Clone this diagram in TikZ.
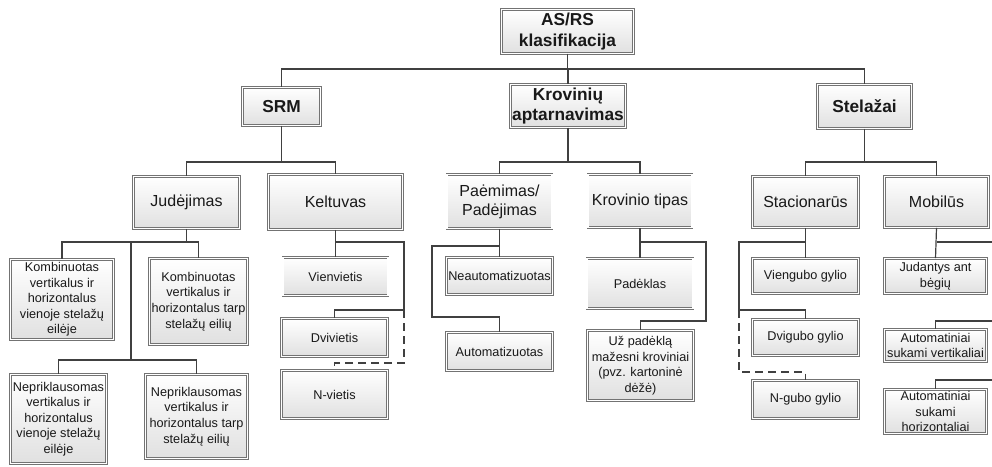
\documentclass[tikz,border=0pt]{standalone}
\usepackage{fontspec}
\setmainfont{Liberation Sans}
\usetikzlibrary{shadows}

\begin{document}
\begin{tikzpicture}[x=1pt,y=-1pt,
  box/.style={draw=black!55,double=white,double distance=1.6pt,line width=0.6pt,
              top color=white,bottom color=black!12,
              drop shadow={opacity=0.15,shadow xshift=1.2pt,shadow yshift=-1.2pt},
              align=center,inner sep=1pt,text=black!90},
  main/.style={box,font=\fontsize{17.3}{20.5}\selectfont\bfseries},
  cat/.style={box,font=\fontsize{16}{19}\selectfont},
  leaf/.style={box,font=\fontsize{12.7}{15.6}\selectfont},
  link/.style={draw=black!75,line width=1.2pt},
  dlink/.style={link,dash pattern=on 8pt off 5pt}
]
\useasboundingbox (0,0) rectangle (992,466);

% Root
\node[main,minimum width=132pt,minimum height=44pt] (root) at (567.5,31.5) {AS/RS\\klasifikacija};

% Level 1
\node[main,minimum width=78pt,minimum height=38pt]  (srm)  at (281.5,106.5) {SRM};
\node[main,minimum width=115pt,minimum height=43pt] (krov) at (568,106)     {Krovinių\\aptarnavimas};
\node[main,minimum width=94pt,minimum height=44pt]  (stel) at (864.5,106.5) {Stelažai};

% Level 2
\node[cat,minimum width=106pt,minimum height=52pt] (jud)  at (186.5,202.5) {Judėjimas};
\node[cat,minimum width=134pt,minimum height=55pt] (kel)  at (335.5,202)   {Keltuvas};
\node[cat,minimum width=105pt,minimum height=54pt] (paem) at (499.5,201.5) {Paėmimas/\\Padėjimas};
\node[cat,minimum width=104pt,minimum height=53pt] (ktip) at (640,201)     {Krovinio tipas};
\node[cat,minimum width=106pt,minimum height=51pt] (stac) at (805.5,202)   {Stacionarūs};
\node[cat,minimum width=104pt,minimum height=51pt] (mob)  at (936.5,202)   {Mobilūs};

% SRM / Judėjimas
\node[leaf,minimum width=103pt,minimum height=80pt] (k1) at (62,299.5)    {Kombinuotas\\vertikalus ir\\horizontalus\\vienoje stelažų\\eilėje};
\node[leaf,minimum width=98pt,minimum height=86pt]  (k2) at (198.5,301.5) {Kombinuotas\\vertikalus ir\\horizontalus tarp\\stelažų eilių};
\node[leaf,minimum width=96pt,minimum height=89pt]  (n1) at (58.5,419)    {Nepriklausomas\\vertikalus ir\\horizontalus\\vienoje stelažų\\eilėje};
\node[leaf,minimum width=102pt,minimum height=84pt] (n2) at (196.5,416.5) {Nepriklausomas\\vertikalus ir\\horizontalus tarp\\stelažų eilių};

% SRM / Keltuvas
\node[leaf,minimum width=105pt,minimum height=38pt] (v1) at (335.5,276.5) {Vienvietis};
\node[leaf,minimum width=106pt,minimum height=38pt] (v2) at (334.5,337.5) {Dvivietis};
\node[leaf,minimum width=106pt,minimum height=48pt] (vn) at (334.5,394.5) {N-vietis};

% Krovinių aptarnavimas
\node[leaf,minimum width=106pt,minimum height=37pt] (neaut) at (499.5,276)   {Neautomatizuotas};
\node[leaf,minimum width=106pt,minimum height=38pt] (aut)   at (499.5,351.5) {Automatizuotas};
\node[leaf,minimum width=106pt,minimum height=50pt] (padek) at (640,283.5)   {Padėklas};
\node[leaf,minimum width=106pt,minimum height=70pt] (maz)   at (640.5,365.5) {Už padėklą\\mažesni kroviniai\\(pvz. kartoninė\\dėžė)};

% Stelažai
\node[leaf,minimum width=106pt,minimum height=35pt] (vieng) at (805.5,276)   {Viengubo gylio};
\node[leaf,minimum width=106pt,minimum height=36pt] (dvig)  at (805.5,337.5) {Dvigubo gylio};
\node[leaf,minimum width=106pt,minimum height=38pt] (ngub)  at (805.5,399.5) {N-gubo gylio};
\node[leaf,minimum width=102pt,minimum height=35pt] (judant) at (935.5,276)   {Judantys ant\\bėgių};
\node[leaf,minimum width=102pt,minimum height=32pt] (avert)  at (935.5,345.5) {Automatiniai\\sukami vertikaliai};
\node[leaf,minimum width=102pt,minimum height=44pt] (ahor)   at (935.5,411.5) {Automatiniai\\sukami\\horizontaliai};

% Connectors
\coordinate (bus1) at (0,69);
\coordinate (bus2) at (0,162);
\coordinate (bus3) at (0,242);
\foreach \c in {srm,krov,stel}
  \draw[link] (root.south) -- (root.south |- bus1) -| (\c.north);
\foreach \p/\c in {srm/jud,srm/kel,krov/paem,krov/ktip,stel/stac,stel/mob}
  \draw[link] (\p.south) -- (\p.south |- bus2) -| (\c.north);

\coordinate (judB) at (131,360);
\draw[link] (jud.south) -- (jud.south |- bus3) -| (k1.north);
\draw[link] (jud.south |- bus3) -| (k2.north);
\draw[link] (jud.south |- bus3) -| (judB) -| (n1.north);
\draw[link] (judB) -| (n2.north);

\coordinate (kelR) at (404,310);
\draw[link] (kel.south) -- (v1.north);
\draw[link] (kel.south |- bus3) -| (kelR) -| (v2.north);
\draw[dlink] (kelR) -- ++(0,53) -| (vn.north);

\coordinate (paemL) at (432,317);
\draw[link] (paem.south) -- (neaut.north);
\draw[link] (paem.south |- 0,246) -| (paemL) -| (aut.north);

\coordinate (ktipR) at (706,321);
\draw[link] (ktip.south) -- (padek.north);
\draw[link] (ktip.south |- bus3) -| (ktipR) -| (maz.north);

\coordinate (stacL) at (739,310);
\draw[link] (stac.south) -- (vieng.north);
\draw[link] (stac.south |- bus3) -| (stacL) -| (dvig.north);
\draw[dlink] (stacL) -- ++(0,62) -| (ngub.north);

\coordinate (mobE1) at (992,242);
\coordinate (mobE2) at (992,321);
\coordinate (mobE3) at (992,380);
\draw[link] (mob.south) -- (judant.north);
\draw[link] (mob.south |- bus3) -- (mobE1);
\draw[link] (mobE2) -| (avert.north);
\draw[link] (mobE3) -| (ahor.north);

\end{tikzpicture}
\end{document}
